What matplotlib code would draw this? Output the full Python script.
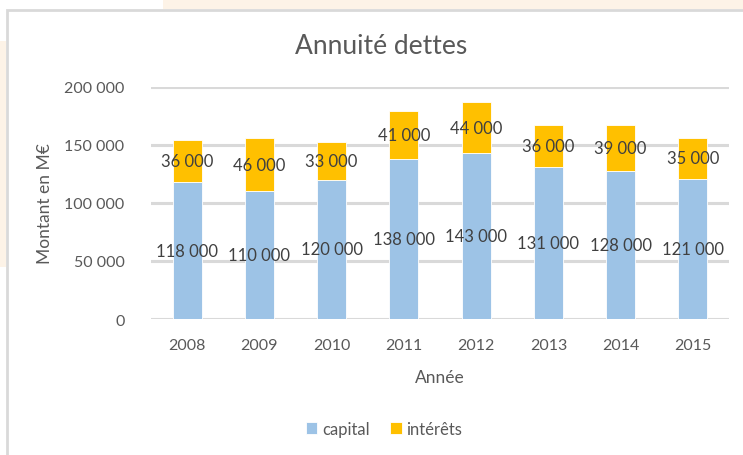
import numpy as np
import matplotlib.pyplot as plt
from matplotlib.patches import Rectangle

years = ['2008', '2009', '2010', '2011', '2012', '2013', '2014', '2015']
capital = [118000, 110000, 120000, 138000, 143000, 131000, 128000, 121000]
interets = [36000, 46000, 33000, 41000, 44000, 36000, 39000, 35000]
yticks = [0, 50000, 100000, 150000, 200000]

txt = '#595959'
blue = '#9DC3E6'
orange = '#FFC000'

plt.rcParams['font.family'] = ['Lato', 'DejaVu Sans']


def fmt(v):
    return f'{v:,}'.replace(',', ' ')


W, H = 743, 456
fig = plt.figure(figsize=(W / 100, H / 100), dpi=100)

# page background bits and chart frame
fig.patches.append(Rectangle((163 / W, 1 - 10 / H), 1, 10 / H, transform=fig.transFigure,
                             facecolor='#FDF3E7', edgecolor='none', zorder=0))
fig.patches.append(Rectangle((0, 1 - 268 / H), 6 / W, 226 / H, transform=fig.transFigure,
                             facecolor='#FDF3E7', edgecolor='none', zorder=0))
fig.patches.append(Rectangle((7 / W, -0.1), 1.2, 1 - 11 / H + 0.1, transform=fig.transFigure,
                             facecolor='white', edgecolor='#D9D9D9', linewidth=2, zorder=1))

ax = fig.add_axes([151 / W, (H - 320) / H, 578 / W, 232 / H])
ax.set_zorder(2)
ax.patch.set_alpha(0)

x = np.arange(len(years))
b1 = ax.bar(x, capital, width=0.4, color=blue, edgecolor='white', linewidth=0.6,
            label='capital', zorder=3)
b2 = ax.bar(x, interets, width=0.4, bottom=capital, color=orange, edgecolor='white',
            linewidth=0.6, label='intérêts', zorder=3)

for i in range(len(years)):
    ax.text(x[i], capital[i] / 2, fmt(capital[i]), ha='center', va='center',
            fontsize=12, color='#404040', zorder=4)
    ax.text(x[i], capital[i] + interets[i] / 2, fmt(interets[i]), ha='center', va='center',
            fontsize=12, color='#404040', zorder=4)

ax.set_xlim(-0.5, len(years) - 0.5)
ax.set_ylim(0, 200000)
ax.set_yticks(yticks)
ax.set_yticklabels([fmt(v) for v in yticks])
ax.set_xticks(x)
ax.set_xticklabels(years)
ax.tick_params(axis='y', length=0, pad=19, labelsize=11.5, labelcolor=txt)
ax.tick_params(axis='x', length=0, pad=14, labelsize=11.5, labelcolor=txt)
ax.grid(axis='y', color='#D9D9D9', linewidth=2.2, zorder=0)
ax.set_axisbelow(True)
for s in ax.spines.values():
    s.set_visible(False)

ax.set_xlabel('Année', fontsize=12.5, color=txt, labelpad=12)
ax.set_ylabel('Montant en M€', fontsize=12.5, color=txt, labelpad=8)

fig.text(381 / W, 1 - 47 / H, 'Annuité dettes', ha='center', va='center',
         fontsize=19, color=txt)

fig.legend(handles=[b1, b2], loc='center', bbox_to_anchor=(384 / W, 1 - 430 / H),
           ncol=2, frameon=False, fontsize=12, labelcolor=txt, handlelength=0.7,
           handleheight=0.7, handletextpad=0.3, columnspacing=1.2)

fig.savefig('out.png', dpi=100)
